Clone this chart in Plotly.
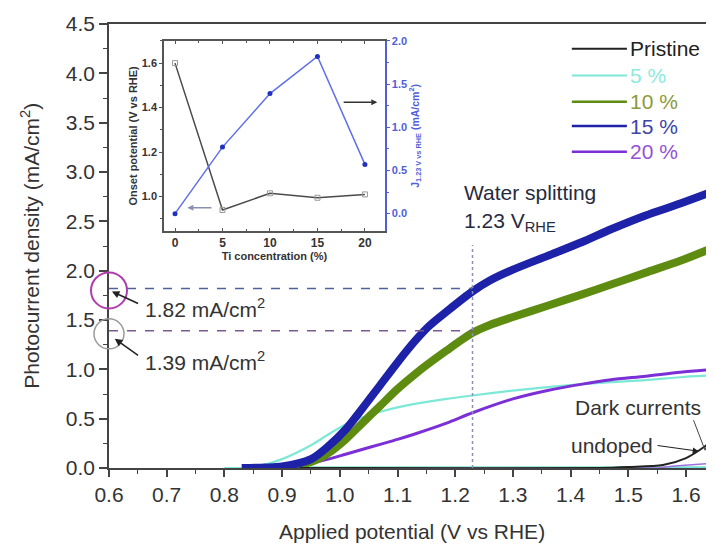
import plotly.graph_objects as go

# ---------------- data ----------------
v_15 = [0.83, 0.87, 0.90, 0.95, 0.98, 1.01, 1.04, 1.07, 1.10, 1.13, 1.155,
        1.185, 1.23, 1.26, 1.30, 1.36, 1.42, 1.47, 1.53, 1.59, 1.65]
j_15 = [0.0, 0.005, 0.015, 0.09, 0.22, 0.39, 0.61, 0.84, 1.07, 1.285, 1.44,
        1.585, 1.79, 1.90, 2.01, 2.15, 2.29, 2.42, 2.56, 2.68, 2.81]

v_10 = [0.87, 0.90, 0.95, 0.98, 1.01, 1.04, 1.07, 1.10, 1.13,
        1.185, 1.23, 1.26, 1.30, 1.36, 1.42, 1.47, 1.53, 1.59, 1.65]
j_10 = [0.0, 0.005, 0.06, 0.15, 0.29, 0.46, 0.63, 0.80, 0.95,
        1.19, 1.37, 1.45, 1.53, 1.645, 1.76, 1.86, 1.98, 2.10, 2.24]

v_5 = [0.80, 0.85, 0.90, 0.95, 0.98, 1.01, 1.04, 1.07, 1.10, 1.13,
       1.185, 1.23, 1.30, 1.36, 1.42, 1.47, 1.53, 1.59, 1.65]
j_5 = [0.0, 0.01, 0.09, 0.23, 0.34, 0.44, 0.515, 0.57, 0.615, 0.65,
       0.70, 0.735, 0.785, 0.82, 0.85, 0.87, 0.89, 0.92, 0.94]

v_20 = [0.85, 0.90, 0.95, 0.98, 1.01, 1.04, 1.07, 1.10, 1.13,
        1.185, 1.23, 1.30, 1.36, 1.42, 1.47, 1.53, 1.59, 1.65]
j_20 = [0.0, 0.01, 0.05, 0.09, 0.14, 0.19, 0.24, 0.29, 0.345,
        0.455, 0.56, 0.70, 0.785, 0.85, 0.895, 0.93, 0.97, 1.00]

pristine_v = [0.93, 1.00, 1.45, 1.50, 1.56, 1.60, 1.633, 1.65]
pristine_j = [0.0, 0.0, 0.0, 0.01, 0.03, 0.10, 0.22, 0.30]

dark_v = [0.93, 1.55, 1.58, 1.65]
dark_j_20 = [0.0, 0.0, 0.02, 0.05]
dark_j_mint = [0.0, 0.0, 0.0, 0.0]
dark_j_cyan = [0.006, 0.006, 0.006, 0.006]

# inset
ti_conc = [0, 5, 10, 15, 20]
onset_v = [1.60, 0.94, 1.015, 0.995, 1.01]
j_123 = [0.0, 0.77, 1.39, 1.82, 0.57]

V_WS = 1.23
J15_AT_WS = 1.82
J10_AT_WS = 1.39

x_ticks = [0.6, 0.7, 0.8, 0.9, 1.0, 1.1, 1.2, 1.3, 1.4, 1.5, 1.6]
y_ticks = [0.0, 0.5, 1.0, 1.5, 2.0, 2.5, 3.0, 3.5, 4.0, 4.5]
Y_MAX = 4.5

legend_labels = ["Pristine", "5 %", "10 %", "15 %", "20 %"]

# ---------------- styles ----------------
FONT = "Liberation Sans, Arial, sans-serif"
C_PRIS = "#222222"
C_5 = "#7de8d6"
C_10 = "#5d8c10"
C_15 = "#1d22a8"
C_20 = "#7b2fd6"
TXT_5 = "#8ee9dc"
TXT_10 = "#8c9a3a"
TXT_15 = "#3d45a8"
TXT_20 = "#9650d8"
C_INSET_BLUE = "#4f5fd8"
SPL = dict(shape="spline", smoothing=0.8)

fig = go.Figure()

# dark currents
fig.add_trace(go.Scatter(x=dark_v, y=dark_j_mint, mode="lines",
                         line=dict(color="#5ad994", width=3), showlegend=False))
fig.add_trace(go.Scatter(x=dark_v, y=dark_j_cyan, mode="lines",
                         line=dict(color="#6fe3e0", width=1.5), showlegend=False))
fig.add_trace(go.Scatter(x=dark_v, y=dark_j_20, mode="lines",
                         line=dict(color="#a070e0", width=1.5), showlegend=False))

# photocurrents
fig.add_trace(go.Scatter(x=v_5, y=j_5, mode="lines",
                         line=dict(color=C_5, width=2.2, **SPL), showlegend=False))
fig.add_trace(go.Scatter(x=v_20, y=j_20, mode="lines",
                         line=dict(color=C_20, width=3, **SPL), showlegend=False))
fig.add_trace(go.Scatter(x=v_10, y=j_10, mode="lines",
                         line=dict(color=C_10, width=8, **SPL), showlegend=False))
fig.add_trace(go.Scatter(x=v_15, y=j_15, mode="lines",
                         line=dict(color=C_15, width=8, **SPL), showlegend=False))
fig.add_trace(go.Scatter(x=pristine_v, y=pristine_j, mode="lines",
                         line=dict(color=C_PRIS, width=2, **SPL), showlegend=False))

# inset
fig.add_trace(go.Scatter(x=ti_conc, y=onset_v, mode="lines+markers",
                         xaxis="x2", yaxis="y2",
                         line=dict(color="#4a4a4a", width=1.5),
                         marker=dict(symbol="square-open", size=5, color="#999999",
                                     line=dict(width=1)),
                         showlegend=False))
fig.add_trace(go.Scatter(x=ti_conc, y=j_123, mode="lines+markers",
                         xaxis="x2", yaxis="y3",
                         line=dict(color="#6070e8", width=1.5),
                         marker=dict(symbol="circle", size=5, color="#2030c0"),
                         showlegend=False))

shapes = []
# dashed guides at 1.23 V
shapes.append(dict(type="line", xref="x", yref="y", x0=0.6, x1=V_WS,
                   y0=J15_AT_WS, y1=J15_AT_WS,
                   line=dict(color="#50609a", width=1.5, dash="dash")))
shapes.append(dict(type="line", xref="x", yref="y", x0=0.6, x1=V_WS,
                   y0=J10_AT_WS, y1=J10_AT_WS,
                   line=dict(color="#7a5a90", width=1.5, dash="dash")))
shapes.append(dict(type="line", xref="x", yref="y", x0=V_WS, x1=V_WS,
                   y0=0, y1=2.26,
                   line=dict(color="#8a90b8", width=1.5, dash="dot")))
# circles (paper refs so they are not clipped at the axis)
shapes.append(dict(type="circle", xref="paper", yref="paper", xsizemode="pixel", ysizemode="pixel",
                   xanchor=0, yanchor=1.80 / Y_MAX, x0=-18, x1=18, y0=-18, y1=18,
                   line=dict(color="#b03cb0", width=2)))
shapes.append(dict(type="circle", xref="paper", yref="paper", xsizemode="pixel", ysizemode="pixel",
                   xanchor=0, yanchor=1.36 / Y_MAX, x0=-15, x1=15, y0=-15, y1=15,
                   line=dict(color="#9a9a9a", width=1.5)))

# manual legend
leg_colors = [C_PRIS, C_5, C_10, C_15, C_20]
leg_txt = [C_PRIS, TXT_5, TXT_10, TXT_15, TXT_20]
leg_w = [2, 2, 2.5, 2.5, 2.5]
leg_y = [0.944, 0.884, 0.825, 0.770, 0.712]
annotations = []
for lab, c, tc, w, yy in zip(legend_labels, leg_colors, leg_txt, leg_w, leg_y):
    shapes.append(dict(type="line", xref="paper", yref="paper", x0=0.765, x1=0.856,
                       y0=yy, y1=yy, line=dict(color=c, width=w)))
    annotations.append(dict(xref="paper", yref="paper", x=0.858, y=yy, text=lab,
                            showarrow=False, xanchor="left", yanchor="middle",
                            font=dict(size=21, color=tc, family=FONT)))

TXT = dict(family=FONT, size=21, color="#262a40")
TXT2 = dict(family=FONT, size=21, color="#333")
annotations += [
    dict(xref="x", yref="y", x=1.212, y=2.79, text="Water splitting", showarrow=False,
         xanchor="left", yanchor="middle", font=TXT),
    dict(xref="x", yref="y", x=1.212, y=2.49, text="1.23 V<sub>RHE</sub>", showarrow=False,
         xanchor="left", yanchor="middle", font=TXT),
    dict(xref="x", yref="y", x=0.659, y=1.62, text="1.82 mA/cm<sup>2</sup>", showarrow=False,
         xanchor="left", yanchor="middle", font=TXT2),
    dict(xref="x", yref="y", x=0.659, y=1.08, text="1.39 mA/cm<sup>2</sup>", showarrow=False,
         xanchor="left", yanchor="middle", font=TXT2),
    dict(xref="x", yref="y", x=1.404, y=0.61, text="Dark currents", showarrow=False,
         xanchor="left", yanchor="middle", font=TXT2),
    dict(xref="x", yref="y", x=1.397, y=0.23, text="undoped", showarrow=False,
         xanchor="left", yanchor="middle", font=TXT2),
    # arrows
    dict(xref="x", yref="y", axref="x", ayref="y", x=0.605, y=1.79, ax=0.653, ay=1.66,
         text="", showarrow=True, arrowhead=2, arrowsize=1, arrowwidth=1.5, arrowcolor="#222"),
    dict(xref="x", yref="y", axref="x", ayref="y", x=0.61, y=1.31, ax=0.653, ay=1.13,
         text="", showarrow=True, arrowhead=2, arrowsize=1, arrowwidth=1.5, arrowcolor="#222"),
    dict(xref="x", yref="y", axref="x", ayref="y", x=1.622, y=0.17, ax=1.548, ay=0.23,
         text="", showarrow=True, arrowhead=2, arrowsize=1, arrowwidth=1.2, arrowcolor="#222"),
    dict(xref="x", yref="y", axref="x", ayref="y", x=1.633, y=0.18, ax=1.612, ay=0.50,
         text="", showarrow=True, arrowhead=0, arrowwidth=1, arrowcolor="#444"),
    dict(xref="x", yref="y", axref="x", ayref="y", x=1.633, y=0.18, ax=1.648, ay=0.46,
         text="", showarrow=True, arrowhead=0, arrowwidth=1, arrowcolor="#444"),
    # inset arrows
    dict(xref="x2", yref="y2", axref="x2", ayref="y2", x=1.3, y=0.95, ax=4.0, ay=0.95,
         text="", showarrow=True, arrowhead=2, arrowsize=0.8, arrowwidth=1.5, arrowcolor="#8a8fb0"),
    dict(xref="x2", yref="y3", axref="x2", ayref="y3", x=21.3, y=1.29, ax=17.6, ay=1.29,
         text="", showarrow=True, arrowhead=2, arrowsize=0.8, arrowwidth=1.5, arrowcolor="#333"),
    # axis titles
    dict(xref="paper", yref="paper", x=0.50, y=-0.144, text="Applied potential (V vs RHE)",
         showarrow=False, xanchor="center", yanchor="middle", font=TXT2),
    dict(xref="paper", yref="paper", x=-0.131, y=0.50,
         text="Photocurrent density (mA/cm<sup>2</sup>)", textangle=-90,
         showarrow=False, xanchor="center", yanchor="middle", font=TXT2),
]

AX = "#444444"
fig.update_layout(
    template="none",
    width=706, height=543,
    margin=dict(l=101, r=0, t=16, b=83),
    paper_bgcolor="white", plot_bgcolor="white",
    font=dict(family=FONT, color="#333"),
    showlegend=False,
    xaxis=dict(domain=[0, 1], range=[0.6, 1.6485], tickvals=x_ticks,
               ticktext=[f"{v:.1f}" for v in x_ticks],
               ticks="outside", ticklen=7, tickwidth=1.5, tickcolor=AX,
               showline=True, linecolor=AX, linewidth=1.5, mirror=True,
               showgrid=False, zeroline=False, automargin=False,
               minor=dict(dtick=0.05, tick0=0.6, ticks="outside", ticklen=4,
                          tickwidth=1.2, tickcolor=AX),
               tickfont=dict(size=21, color="#333", family=FONT)),
    yaxis=dict(domain=[0, 1], range=[0, Y_MAX], tickvals=y_ticks,
               ticktext=[f"{v:.1f}" for v in y_ticks],
               ticks="outside", ticklen=8, tickwidth=1.5, tickcolor=AX,
               showline=True, linecolor=AX, linewidth=1.5, mirror=False,
               showgrid=False, zeroline=False, automargin=False,
               minor=dict(dtick=0.25, tick0=0, ticks="outside", ticklen=4,
                          tickwidth=1.2, tickcolor=AX),
               tickfont=dict(size=21, color="#333", family=FONT)),
    xaxis2=dict(domain=[0.0909, 0.456], anchor="y2", range=[-1.16, 22.1],
                tickvals=[0, 5, 10, 15, 20], ticks="inside", ticklen=3,
                tickcolor="#555", showline=True, linecolor="#555", linewidth=1.5,
                mirror="ticks", showgrid=False, zeroline=False, automargin=False,
                minor=dict(dtick=2.5, tick0=0, ticks="inside", ticklen=2, tickcolor="#555"),
                tickfont=dict(size=12, color="#333", family=FONT, weight="bold"),
                title=dict(text="Ti concentration (%)", standoff=2,
                           font=dict(size=11, color="#333", family=FONT, weight="bold"))),
    yaxis2=dict(domain=[0.534, 0.962], anchor="x2", range=[0.846, 1.70],
                tickvals=[1.0, 1.2, 1.4, 1.6], ticktext=["1.0", "1.2", "1.4", "1.6"],
                ticks="outside", ticklen=3, tickcolor="#555",
                showline=True, linecolor="#555", linewidth=1.5,
                showgrid=False, zeroline=False, automargin=False,
                minor=dict(dtick=0.1, tick0=1.0, ticks="outside", ticklen=2, tickcolor="#555"),
                tickfont=dict(size=11, color="#333", family=FONT, weight="bold"),
                title=dict(text="Onset potential (V vs RHE)", standoff=2,
                           font=dict(size=11, color="#333", family=FONT, weight="bold"))),
    yaxis3=dict(anchor="x2", overlaying="y2", side="right", range=[-0.2, 2.0],
                tickvals=[0.0, 0.5, 1.0, 1.5, 2.0], ticktext=["0.0", "0.5", "1.0", "1.5", "2.0"],
                ticks="outside", ticklen=3, tickcolor=C_INSET_BLUE,
                showline=True, linecolor=C_INSET_BLUE, linewidth=1.5,
                showgrid=False, zeroline=False, automargin=False,
                minor=dict(dtick=0.25, tick0=0, ticks="outside", ticklen=2, tickcolor=C_INSET_BLUE),
                tickfont=dict(size=11, color=C_INSET_BLUE, family=FONT, weight="bold"),
                title=dict(text="J<sub>1.23 V vs RHE</sub> (mA/cm<sup>2</sup>)", standoff=2,
                           font=dict(size=10.5, color=C_INSET_BLUE, family=FONT, weight="bold"))),
    shapes=shapes,
    annotations=annotations,
)

fig.write_html("out.html")
